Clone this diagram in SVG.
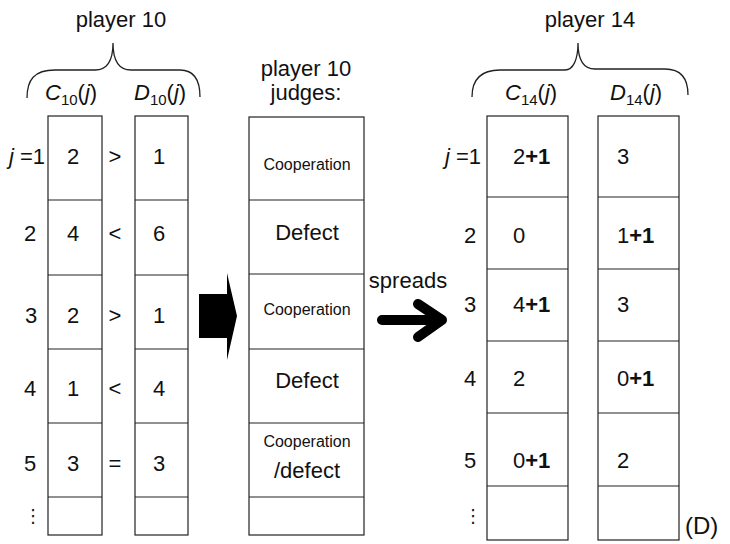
<svg xmlns="http://www.w3.org/2000/svg" width="730" height="544" viewBox="0 0 730 544">
<style>
.t{font-family:"Liberation Sans",Arial,sans-serif;font-size:22px;fill:#111}
.m{text-anchor:middle}
.s{font-size:16px}
.i{font-style:italic}
.b{font-weight:bold}
.sub{font-size:15px}
.box{fill:none;stroke:#222;stroke-width:1.2}
.br{fill:none;stroke:#222;stroke-width:1.3}
.dots{font-family:"DejaVu Sans",sans-serif;font-size:18px;fill:#111;text-anchor:middle}
</style>
<rect width="730" height="544" fill="#fff"/>

<g id="player10">
<text class="t m" x="121" y="27">player 10</text>
<path class="br" d="M27 98 C27 80 34 70 55 70 L95 70 C107 70 113 60 113 43 C113 60 119 70 131 70 L180 70 C195 70 200 82 200 97"/>
<text class="t" x="45" y="100"><tspan class="i">C</tspan><tspan class="sub" dy="5">10</tspan><tspan dy="-5">(</tspan><tspan class="i">j</tspan>)</text>
<text class="t" x="134" y="100"><tspan class="i">D</tspan><tspan class="sub" dy="5">10</tspan><tspan dy="-5">(</tspan><tspan class="i">j</tspan>)</text>
</g>

<g id="rowlabels-left">
<text class="t" x="9" y="164"><tspan class="i">j</tspan> =1</text>
<text class="t m" x="30" y="241">2</text>
<text class="t m" x="31" y="323">3</text>
<text class="t m" x="30" y="396">4</text>
<text class="t m" x="30" y="471">5</text>
<text class="dots" x="33" y="522">⋮</text>
</g>

<g id="C10">
<rect class="box" x="48" y="116" width="54" height="419"/>
<path class="box" d="M48 200H102M48 275H102M48 349H102M48 423H102M48 497H102"/>
<text class="t m" x="73" y="164">2</text>
<text class="t m" x="73" y="241">4</text>
<text class="t m" x="73" y="323">2</text>
<text class="t m" x="73" y="396">1</text>
<text class="t m" x="73" y="471">3</text>
</g>

<g id="compare">
<text class="t m" x="115" y="164">&gt;</text>
<text class="t m" x="115" y="241">&lt;</text>
<text class="t m" x="115" y="323">&gt;</text>
<text class="t m" x="115" y="396">&lt;</text>
<text class="t m" x="115" y="471">=</text>
</g>

<g id="D10">
<rect class="box" x="135" y="116" width="53" height="419"/>
<path class="box" d="M135 200H188M135 275H188M135 349H188M135 423H188M135 497H188"/>
<text class="t m" x="159" y="164">1</text>
<text class="t m" x="159" y="241">6</text>
<text class="t m" x="159" y="323">1</text>
<text class="t m" x="159" y="396">4</text>
<text class="t m" x="159" y="471">3</text>
</g>

<g id="connectors">
<path d="M199 294H227V273L237 316L227 360V338H199Z" fill="#000"/>
<path d="M382 320H438M418 304L442 320L418 337" fill="none" stroke="#000" stroke-width="10" stroke-linecap="round" stroke-linejoin="round"/>
<text class="t m" x="408" y="288">spreads</text>
</g>

<g id="judges">
<text class="t m" x="306" y="76">player 10</text>
<text class="t m" x="306" y="100">judges:</text>
<rect class="box" x="249" y="117" width="115" height="418"/>
<path class="box" d="M249 200H364M249 274H364M249 349H364M249 423H364M249 497H364"/>
<text class="t m s" x="307" y="170">Cooperation</text>
<text class="t m" x="307" y="240">Defect</text>
<text class="t m s" x="307" y="315">Cooperation</text>
<text class="t m" x="307" y="388">Defect</text>
<text class="t m s" x="307" y="447">Cooperation</text>
<text class="t m" x="307" y="478">/defect</text>
</g>

<g id="player14">
<text class="t m" x="590" y="27">player 14</text>
<path class="br" d="M472 97 C472 80 480 70 500 70 L565 70 C573 70 578 60 578 43 C578 60 584 69 595 69 L665 69 C682 69 688 80 688 95"/>
<text class="t" x="505" y="100"><tspan class="i">C</tspan><tspan class="sub" dy="5">14</tspan><tspan dy="-5">(</tspan><tspan class="i">j</tspan>)</text>
<text class="t" x="610" y="100"><tspan class="i">D</tspan><tspan class="sub" dy="5">14</tspan><tspan dy="-5">(</tspan><tspan class="i">j</tspan>)</text>
</g>

<g id="rowlabels-right">
<text class="t" x="445" y="164"><tspan class="i">j</tspan> =1</text>
<text class="t m" x="470" y="243">2</text>
<text class="t m" x="470" y="312">3</text>
<text class="t m" x="470" y="386">4</text>
<text class="t m" x="470" y="468">5</text>
<text class="dots" x="473" y="522">⋮</text>
</g>

<g id="C14">
<rect class="box" x="487" y="116" width="81" height="424"/>
<path class="box" d="M487 197H568M487 269H568M487 341H568M487 413H568M487 486H568"/>
<text class="t" x="513" y="164">2<tspan class="b">+1</tspan></text>
<text class="t" x="513" y="243">0</text>
<text class="t" x="513" y="312">4<tspan class="b">+1</tspan></text>
<text class="t" x="513" y="386">2</text>
<text class="t" x="513" y="468">0<tspan class="b">+1</tspan></text>
</g>

<g id="D14">
<rect class="box" x="598" y="116" width="81" height="424"/>
<path class="box" d="M598 197H679M598 269H679M598 341H679M598 413H679M598 486H679"/>
<text class="t" x="617" y="164">3</text>
<text class="t" x="617" y="243">1<tspan class="b">+1</tspan></text>
<text class="t" x="617" y="312">3</text>
<text class="t" x="617" y="386">0<tspan class="b">+1</tspan></text>
<text class="t" x="617" y="468">2</text>
</g>

<text class="t" x="685" y="534" style="font-size:24px">(D)</text>
</svg>
